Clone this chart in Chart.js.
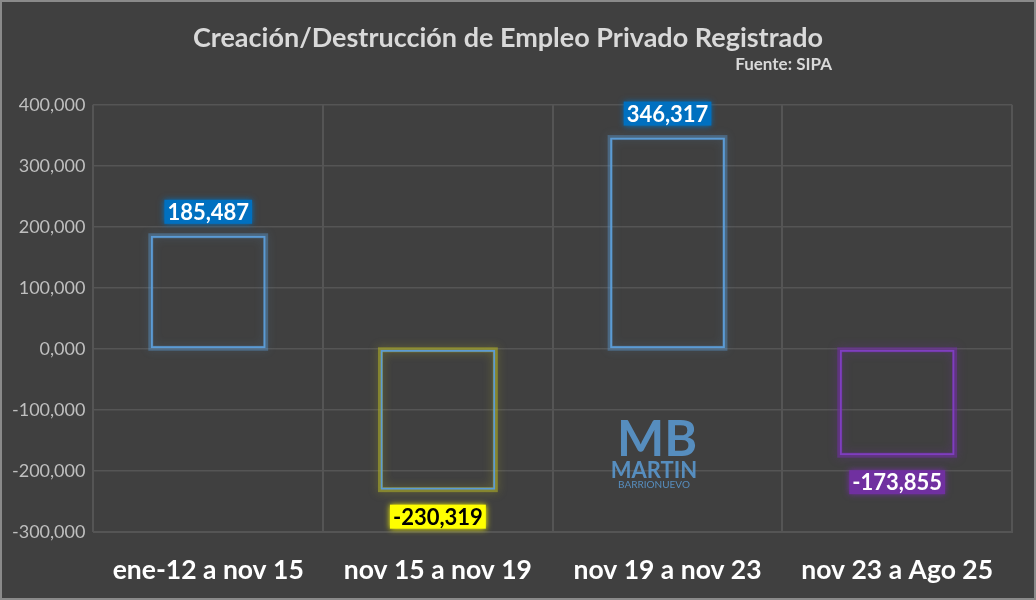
<!DOCTYPE html>
<html>
<head>
<meta charset="utf-8">
<script src="https://cdn.jsdelivr.net/npm/chart.js@4"></script>
<style>
  html, body { margin: 0; padding: 0; background: #404040; }
  #wrap { width: 1032px; height: 596px; border: 2px solid #8a8a8a; position: relative; }
</style>
</head>
<body>
<div id="wrap"><canvas id="empleoChart" width="1032" height="596"></canvas></div>
<script>
// datos del gráfico
const categories = ["ene-12 a nov 15", "nov 15 a nov 19", "nov 19 a nov 23", "nov 23 a Ago 25"];
const values = [185487, -230319, 346317, -173855];
const yTicks = [400000, 300000, 200000, 100000, 0, -100000, -200000, -300000];

const borderColors = ["#5B9BD5", "#5B9BD5", "#5B9BD5", "#7F3FBF"];
const glowColors = ["rgba(91,155,213,0.4)", "rgba(170,170,40,0.6)", "rgba(91,155,213,0.4)", "rgba(112,48,160,0.6)"];
const labelBg = ["#0070C0", "#FFFF00", "#0070C0", "#7030A0"];
const labelFg = ["#FFFFFF", "#000000", "#FFFFFF", "#FFFFFF"];

const FONT = "Lato, 'Open Sans', sans-serif";
const fmt = v => v.toLocaleString("en-US");

// resplandor alrededor de las barras, etiquetas y marca de agua
const glowPlugin = {
    id: "glow",
    beforeDatasetsDraw(chart) {
        const ctx = chart.ctx;
        chart.getDatasetMeta(0).data.forEach((bar, i) => {
            const top = Math.min(bar.y, bar.base), h = Math.abs(bar.base - bar.y);
            ctx.save();
            ctx.strokeStyle = glowColors[i];
            ctx.shadowColor = glowColors[i];
            ctx.shadowBlur = 10;
            ctx.lineWidth = 5;
            ctx.strokeRect(bar.x - bar.width / 2, top, bar.width, h);
            ctx.restore();
        });
    },
    afterDatasetsDraw(chart) {
        const ctx = chart.ctx;
        ctx.save();
        ctx.font = "bold 22px " + FONT;
        ctx.textAlign = "center";
        ctx.textBaseline = "middle";
        chart.getDatasetMeta(0).data.forEach((bar, i) => {
            const txt = fmt(values[i]);
            const w = ctx.measureText(txt).width + 6;
            const cy = values[i] >= 0 ? bar.y - 24 : bar.y + 27;
            ctx.shadowColor = labelBg[i];
            ctx.shadowBlur = 6;
            ctx.fillStyle = labelBg[i];
            ctx.fillRect(bar.x - w / 2, cy - 12, w, 24);
            ctx.shadowBlur = 0;
            ctx.fillStyle = labelFg[i];
            ctx.fillText(txt, bar.x, cy + 1);
        });
        // marca de agua
        ctx.fillStyle = "rgba(91,155,213,0.85)";
        ctx.font = "bold 50px " + FONT;
        ctx.fillText("MB", 655, 438);
        ctx.font = "bold 22px " + FONT;
        ctx.fillText("MARTIN", 652, 469);
        ctx.font = "10px " + FONT;
        ctx.fillText("BARRIONUEVO", 652, 483);
        ctx.restore();
    }
};

new Chart(document.getElementById("empleoChart"), {
    type: "bar",
    data: {
        labels: categories,
        datasets: [{
            data: values,
            backgroundColor: "rgba(0,0,0,0)",
            borderColor: borderColors,
            borderWidth: 2,
            borderSkipped: false,
            barPercentage: 0.5,
            categoryPercentage: 1
        }]
    },
    options: {
        responsive: false,
        animation: false,
        layout: { padding: { top: 6, right: 22, left: 2, bottom: 0 } },
        plugins: {
            legend: { display: false },
            tooltip: { enabled: false },
            title: {
                display: true,
                text: "Creación/Destrucción de Empleo Privado Registrado",
                color: "#D9D9D9",
                font: { size: 27, weight: "bold", family: FONT },
                padding: { top: 14, bottom: 0 }
            },
            subtitle: {
                display: true,
                text: "Fuente: SIPA",
                color: "#D9D9D9",
                align: "end",
                font: { size: 17, weight: "bold", family: FONT },
                padding: { bottom: 30 }
            }
        },
        scales: {
            x: {
                grid: { color: "#555555", lineWidth: 2, offset: true, drawTicks: false },
                border: { color: "#555555" },
                afterFit: s => { s.height -= 10; },
                ticks: {
                    color: "#FFFFFF",
                    padding: 22,
                    font: { size: 26.5, weight: "bold", family: FONT }
                }
            },
            y: {
                min: -300000,
                max: 400000,
                afterBuildTicks: axis => { axis.ticks = yTicks.map(v => ({ value: v })); },
                grid: { color: "#555555", lineWidth: 1.5, drawTicks: false },
                border: { display: false },
                ticks: {
                    color: "#BFBFBF",
                    padding: 8,
                    font: { size: 18, family: FONT },
                    callback: v => (v === 0 ? "0,000" : fmt(v))
                }
            }
        }
    },
    plugins: [glowPlugin, {
        id: "subtitleShift",
        beforeDraw(chart) {
            // desplaza el subtítulo a la posición del original
            const st = chart.subtitle || chart.boxes.find(b => b.options && b.options.text === "Fuente: SIPA");
            if (st && !st._shifted) { st.right -= 180; st._shifted = true; }
        }
    }]
});
</script>
</body>
</html>
